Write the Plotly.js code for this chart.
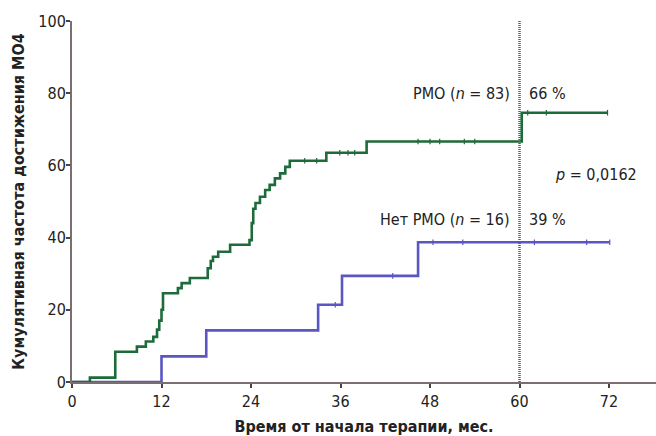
<!DOCTYPE html>
<html>
<head>
<meta charset="utf-8">
<script src="https://cdn.plot.ly/plotly-3.0.1.min.js"></script>
<style>html,body{margin:0;padding:0;background:#fff}#chart{width:656px;height:436px}</style>
</head>
<body>
<div id="chart"></div>
<script>
// Green group: РМО (n = 83) — step times (months) and cumulative %
const rmoTimes  = [0, 2.4, 5.8, 8.7, 9.9, 10.9, 11.4, 11.7, 12.0, 12.2, 14.2, 14.7, 15.8, 18.2, 18.6, 18.9, 19.6, 21.2, 23.8, 24.1, 24.3, 24.6, 25.2, 25.9, 26.5, 27.2, 27.9, 28.6, 29.2, 34.1, 39.5, 60.3, 71.8];
const rmoValues = [0, 1.2, 8.4, 9.8, 11.2, 12.5, 14.5, 17, 20, 24.6, 26, 27.4, 28.8, 31.5, 33.5, 34.7, 36.1, 38, 39.3, 44, 48, 49.6, 51.3, 53.2, 54.6, 56.4, 57.8, 59.6, 61.3, 63.5, 66.6, 74.6, 74.6];
const rmoCensored = [31.2, 32.8, 35.9, 37.0, 37.9, 46.4, 48.0, 49.3, 52.6, 54.0, 61.1, 63.6, 71.8];

// Blue group: Нет РМО (n = 16)
const noRmoTimes  = [0, 12.0, 18.0, 33.0, 36.2, 46.4, 72.1];
const noRmoValues = [0, 7.1, 14.3, 21.4, 29.4, 38.7, 38.7];
const noRmoCensored = [35.3, 43.0, 48.4, 52.4, 62.0, 69.0, 72.1];

const xTicks = [0, 12, 24, 36, 48, 60, 72];
const yTicks = [0, 20, 40, 60, 80, 100];
const cutoffMonth = 60;

const rmoLabel = 'РМО (<i>n</i> = 83)';
const rmoPct = '66 %';
const noRmoLabel = 'Нет РМО (<i>n</i> = 16)';
const noRmoPct = '39 %';
const pText = '<i>p</i> = 0,0162';

function stepValue(times, values, t) {
  let v = values[0];
  for (let i = 0; i < times.length; i++) { if (times[i] <= t) v = values[i]; }
  return v;
}

const green = '#1d6b3a';
const blue = '#5a56c2';
const axisCol = '#7a6f6f';
const tickCol = '#4a4040';
const FONT = '"Liberation Sans Narrow", "DejaVu Sans Condensed", Roboto, sans-serif';
const XR = [0, 78.3];
const YR = [0, 100];

const traces = [
  {x: noRmoTimes, y: noRmoValues, type: 'scatter', mode: 'lines', line: {shape: 'hv', color: blue, width: 2.6}, hoverinfo: 'skip'},
  {x: noRmoCensored, y: noRmoCensored.map(t => stepValue(noRmoTimes, noRmoValues, t)), type: 'scatter', mode: 'markers',
   marker: {symbol: 'line-ns-open', size: 4, color: blue, line: {color: blue, width: 1.2}}, hoverinfo: 'skip'},
  {x: rmoTimes, y: rmoValues, type: 'scatter', mode: 'lines', line: {shape: 'hv', color: green, width: 2.6}, hoverinfo: 'skip'},
  {x: rmoCensored, y: rmoCensored.map(t => stepValue(rmoTimes, rmoValues, t)), type: 'scatter', mode: 'markers',
   marker: {symbol: 'line-ns-open', size: 4, color: green, line: {color: green, width: 1.2}}, hoverinfo: 'skip'},
  {x: [cutoffMonth, cutoffMonth], y: [0, 100], type: 'scatter', mode: 'lines', line: {color: '#5a5a5a', width: 2.5, dash: '1px,1px'}, hoverinfo: 'skip'}
];

const annFont = {family: FONT, size: 16, color: '#222'};

const layout = {
  width: 656, height: 436,
  margin: {l: 72, r: 0, t: 21, b: 54},
  showlegend: false,
  paper_bgcolor: '#fff', plot_bgcolor: '#fff',
  font: {family: FONT, color: '#222', size: 16},
  xaxis: {
    range: XR, tickvals: xTicks, ticktext: xTicks.map(String),
    showgrid: false, zeroline: false, showline: true, linecolor: axisCol, linewidth: 2,
    ticks: 'outside', ticklen: 4, tickwidth: 2, tickcolor: tickCol,
    tickfont: {family: FONT, size: 16, color: '#222'},
    title: {text: '<b>Время от начала терапии, мес.</b>', font: {family: FONT, size: 16, color: '#222'}, standoff: 12}
  },
  yaxis: {
    range: YR, tickvals: yTicks, ticktext: yTicks.map(String),
    showgrid: false, zeroline: false, showline: true, linecolor: axisCol, linewidth: 2,
    ticks: 'outside', ticklen: 4, tickwidth: 2, tickcolor: tickCol, ticklabelstandoff: -3,
    tickfont: {family: FONT, size: 16, color: '#222'},
    title: {text: '<b>Кумулятивная частота достижения МО4</b>', font: {family: FONT, size: 16, color: '#222'}, standoff: 10}
  },
  xaxis2: {
    overlaying: 'x', range: XR, tickvals: xTicks, showticklabels: false, showgrid: false, zeroline: false, showline: false,
    ticks: 'inside', ticklen: 4, tickwidth: 2, tickcolor: tickCol, side: 'bottom', anchor: 'y'
  },
  yaxis2: {
    overlaying: 'y', range: YR, tickvals: yTicks, showticklabels: false, showgrid: false, zeroline: false, showline: false,
    ticks: 'inside', ticklen: 4, tickwidth: 2, tickcolor: tickCol, side: 'left', anchor: 'x'
  },
  annotations: [
    {x: 59, y: 80, xref: 'x', yref: 'y', text: rmoLabel, showarrow: false, xanchor: 'right', yanchor: 'middle', font: annFont},
    {x: 61, y: 80, xref: 'x', yref: 'y', text: rmoPct, showarrow: false, xanchor: 'left', yanchor: 'middle', font: annFont},
    {x: 59, y: 45, xref: 'x', yref: 'y', text: noRmoLabel, showarrow: false, xanchor: 'right', yanchor: 'middle', font: annFont},
    {x: 61, y: 45, xref: 'x', yref: 'y', text: noRmoPct, showarrow: false, xanchor: 'left', yanchor: 'middle', font: annFont},
    {x: 64.5, y: 57.5, xref: 'x', yref: 'y', text: pText, showarrow: false, xanchor: 'left', yanchor: 'middle', font: annFont}
  ]
};

Plotly.newPlot('chart', traces, layout, {displayModeBar: false, staticPlot: true});
</script>
</body>
</html>
